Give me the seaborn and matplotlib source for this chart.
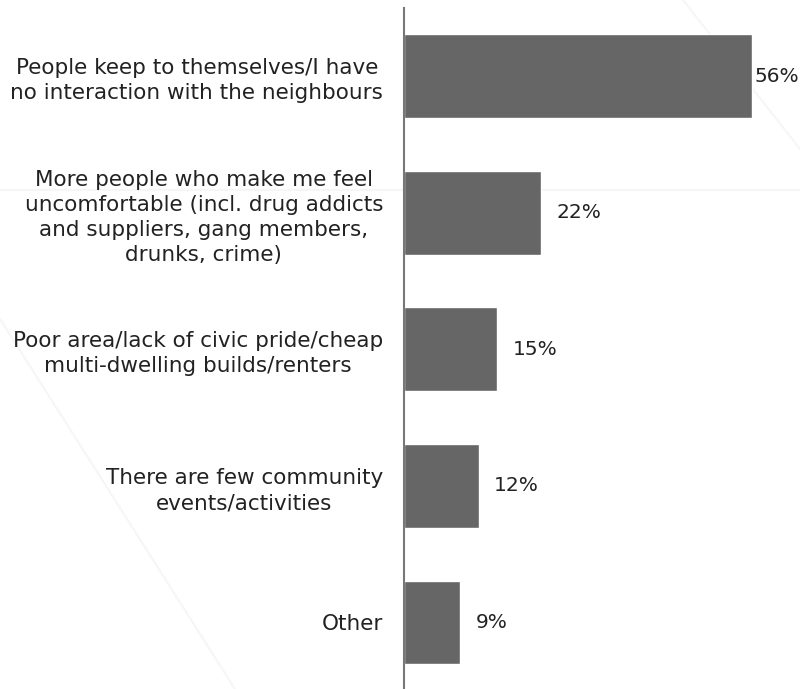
import matplotlib
matplotlib.use("Agg")
import matplotlib.pyplot as plt
from matplotlib.lines import Line2D
import seaborn as sns
import pandas as pd

# datos
categorias = [
    "People keep to themselves/I have\nno interaction with the neighbours",
    "More people who make me feel\nuncomfortable (incl. drug addicts\nand suppliers, gang members,\ndrunks, crime)",
    "Poor area/lack of civic pride/cheap\nmulti-dwelling builds/renters",
    "There are few community\nevents/activities",
    "Other",
]
valores = [56, 22, 15, 12, 9]
etiquetas = ["56%", "22%", "15%", "12%", "9%"]

df = pd.DataFrame({"motivo": categorias, "pct": valores})

sns.set_style("white")
plt.rcParams["font.family"] = ["DejaVu Sans"]

fig = plt.figure(figsize=(8, 6.89), dpi=100)

# líneas decorativas muy tenues del fondo
for xs, ys in [([0, 1], [499 / 689, 499 / 689]),
               ([683 / 800, 1], [1, 540 / 689]),
               ([0, 235 / 800], [370 / 689, 0])]:
    fig.add_artist(Line2D(xs, ys, color="#f6f6f6", lw=1.5, zorder=0))

ax = fig.add_axes([404 / 800, 1 / 689, 386 / 800, 680 / 689])
ax.patch.set_alpha(0)

sns.barplot(data=df, y="motivo", x="pct", orient="h", color="#666666",
            saturation=1, width=0.614, ax=ax)

ax.set_xlim(0, 386 / 6.22)
ax.set_ylim(4.48, -0.5)

# etiquetas de valor al final de cada barra
for i, (v, t) in enumerate(zip(valores, etiquetas)):
    offset = 0.3 if v > 50 else 2.5
    ax.text(v + offset, i, t, va="center", ha="left", fontsize=14.5, color="#222222")

ax.set_xlabel("")
ax.set_ylabel("")
ax.set_xticks([])
ax.tick_params(axis="y", length=0, pad=15, labelsize=15.5, labelcolor="#222222")
for lab in ax.get_yticklabels():
    lab.set_multialignment("center")
    lab.set_linespacing(1.32)

for lado in ["top", "right", "bottom"]:
    ax.spines[lado].set_visible(False)
ax.spines["left"].set_color("#777777")
ax.spines["left"].set_linewidth(1.5)

fig.savefig("out.png", dpi=100)
